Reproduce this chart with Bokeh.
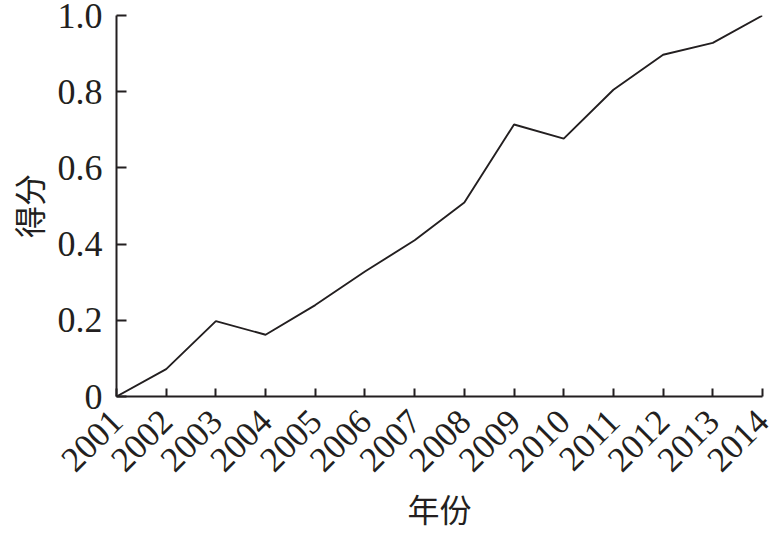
import math
from bokeh.plotting import figure
from bokeh.models import Range1d, FixedTicker
from bokeh.embed import file_html
from bokeh.resources import INLINE

years = [2001, 2002, 2003, 2004, 2005, 2006, 2007, 2008, 2009, 2010, 2011, 2012, 2013, 2014]
scores = [0.0, 0.072, 0.198, 0.162, 0.240, 0.328, 0.410, 0.509, 0.714, 0.677, 0.805, 0.897, 0.928, 1.0]
y_ticks = [0, 0.2, 0.4, 0.6, 0.8, 1.0]
y_tick_labels = {0: "0", 0.2: "0.2", 0.4: "0.4", 0.6: "0.6", 0.8: "0.8", 1.0: "1.0"}
x_title = "年份"
y_title = "得分"

INK = "#231f20"
SERIF = "Liberation Serif"
CJK = "Noto Sans CJK SC"

p = figure(width=775, height=533, output_backend="svg", toolbar_location=None,
           x_range=Range1d(years[0], years[-1]), y_range=Range1d(0, 1.0),
           min_border_left=116, min_border_right=13, min_border_top=15, min_border_bottom=137)
p.outline_line_color = None
p.grid.grid_line_color = None
p.background_fill_color = "white"
p.border_fill_color = "white"

p.line(years, scores, line_color=INK, line_width=1.9)

xa = p.xaxis[0]
xa.ticker = FixedTicker(ticks=years)
xa.major_label_orientation = math.pi / 4
xa.major_tick_in = 8
xa.major_tick_out = 0
xa.minor_tick_line_color = None
xa.axis_line_width = 2
xa.major_tick_line_width = 2
xa.axis_line_color = INK
xa.major_tick_line_color = INK
xa.major_label_text_font = SERIF
xa.major_label_text_font_size = "35px"
xa.major_label_text_color = INK
xa.major_label_standoff = 19
xa.axis_label = x_title
xa.axis_label_text_font = CJK
xa.axis_label_text_font_style = "normal"
xa.axis_label_text_font_size = "32px"
xa.axis_label_text_color = INK
xa.axis_label_standoff = 0

ya = p.yaxis[0]
ya.ticker = FixedTicker(ticks=y_ticks)
ya.major_label_overrides = y_tick_labels
ya.major_tick_in = 10
ya.major_tick_out = 0
ya.minor_tick_line_color = None
ya.axis_line_width = 2
ya.major_tick_line_width = 2
ya.axis_line_color = INK
ya.major_tick_line_color = INK
ya.major_label_text_font = SERIF
ya.major_label_text_font_size = "36px"
ya.major_label_text_color = INK
ya.major_label_standoff = 14
ya.axis_label = y_title
ya.axis_label_text_font = CJK
ya.axis_label_text_font_style = "normal"
ya.axis_label_text_font_size = "32px"
ya.axis_label_text_color = INK
ya.axis_label_standoff = 4

open("out.html", "w").write(file_html(p, INLINE))
